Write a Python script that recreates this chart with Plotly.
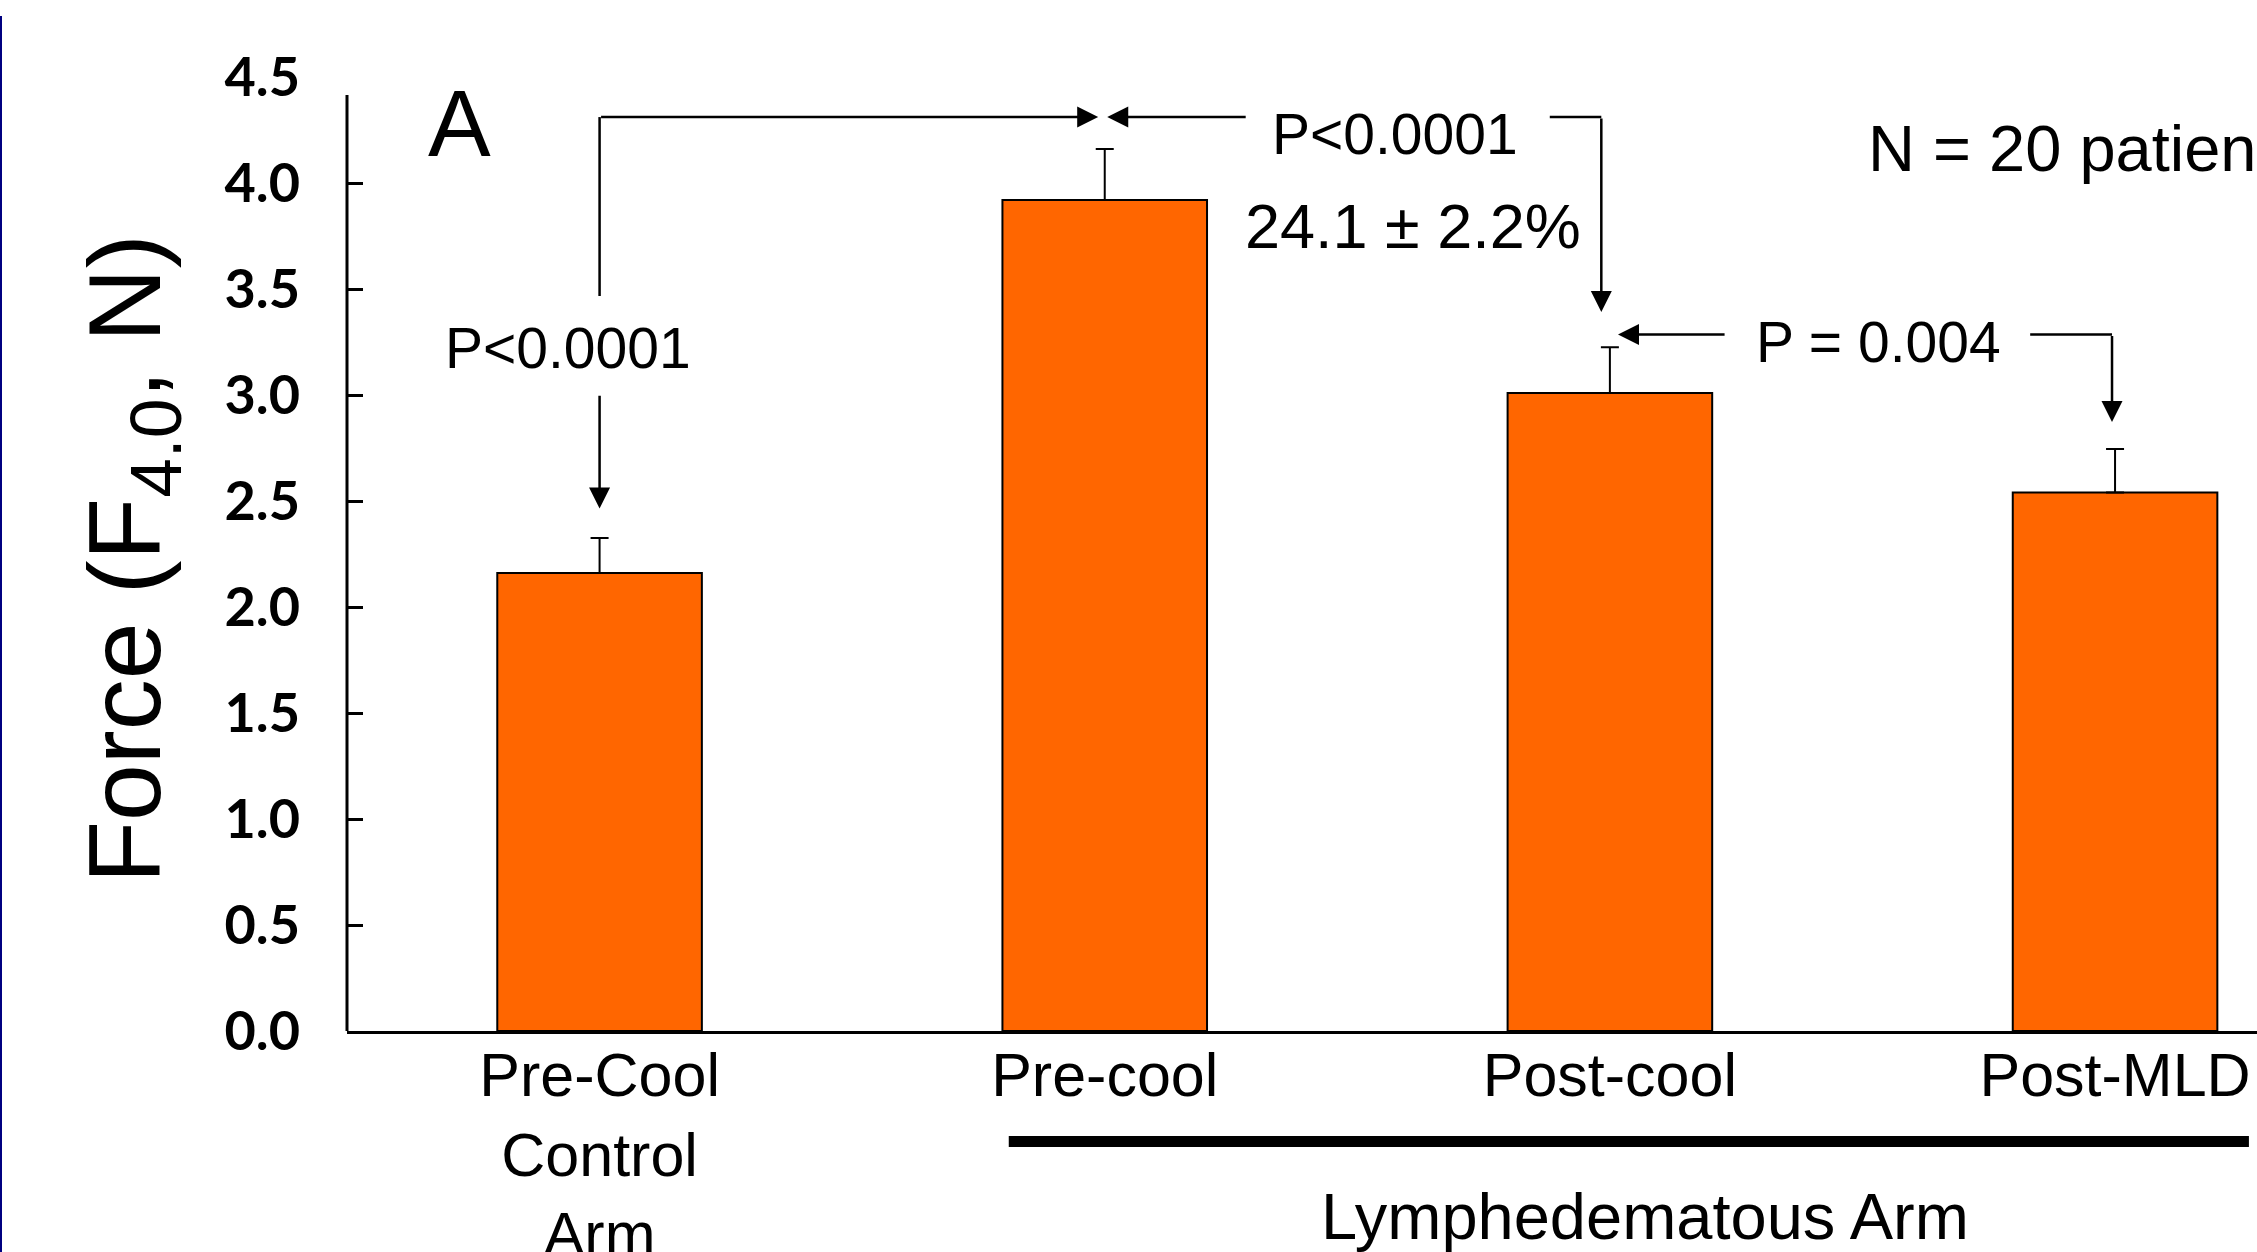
import plotly.graph_objects as go

# ---------------- data ----------------
CATEGORIES = ["Pre-Cool<br>Control<br>Arm", "Pre-cool", "Post-cool", "Post-MLD"]
FORCE = [2.16, 3.92, 3.01, 2.54]          # mean force (N)
SEM = [0.165, 0.24, 0.215, 0.205]          # upper error bar
Y_TICKS = [0.0, 0.5, 1.0, 1.5, 2.0, 2.5, 3.0, 3.5, 4.0, 4.5]
Y_TICK_MARKS = [0.0, 0.5, 1.0, 1.5, 2.0, 2.5, 3.0, 3.5, 4.0]
GROUP_LABEL = "Lymphedematous Arm"
PANEL_LABEL = "A"
N_LABEL = "N = 20 patients"
P_CTRL = "P<0.0001"
P_COOL = "P<0.0001"
PCT_CHANGE = "24.1 ± 2.2%"
P_MLD = "P = 0.004"

# ---------------- geometry / style ----------------
W, H = 2257, 1252
ML, MR, MT, MB = 347, 0, 77, 221.4
X_RANGE = [-0.5, 3.281]
Y_RANGE = [0, 4.5]
AXIS_TOP = 4.415
ORANGE = "#FF6600"
TXT = "Liberation Sans, Arial, sans-serif"

X = list(range(len(CATEGORIES)))


def px_x(px):
    return (px - ML) / (W - ML - MR)


def px_y(py):
    return (H - MB - py) / (H - MT - MB)


fig = go.Figure()
fig.add_trace(go.Bar(
    x=X, y=FORCE, width=0.405,
    marker=dict(color=ORANGE, line=dict(color="black", width=2)),
    error_y=dict(type="data", symmetric=False, array=SEM,
                 arrayminus=[0] * len(SEM), color="black",
                 thickness=2, width=9),
    showlegend=False, hoverinfo="skip",
))
# helper trace so the overlay axis (tick marks) is drawn
fig.add_trace(go.Scatter(x=[None], y=[None], yaxis="y2", showlegend=False,
                         hoverinfo="skip"))

tops = [v + e for v, e in zip(FORCE, SEM)]


def arrow(xt, yt, xh, yh):
    return dict(x=xh, y=yh, ax=xt, ay=yt, xref="x", yref="y",
                axref="x", ayref="y", text="", showarrow=True,
                arrowhead=2, arrowsize=1.68, arrowwidth=2.5,
                arrowcolor="black", standoff=0, startstandoff=0)


def label(x, y, text, size, xanchor="center"):
    return dict(x=x, y=y, xref="x", yref="y", text=text, showarrow=False,
                xanchor=xanchor, yanchor="middle",
                font=dict(family=TXT, size=size, color="black"))


BR_Y = 4.311        # height of top bracket
MLD_Y = 3.285       # height of P = 0.004 bracket

annotations = [
    # control vs pre-cool
    arrow(X[0], BR_Y, 0.987, BR_Y),
    arrow(1.282, BR_Y, 1.005, BR_Y),
    arrow(X[0], 3.004, X[0], tops[0] + 0.14),
    label(-0.062, 3.221, P_CTRL, 57),
    # pre-cool vs post-cool
    label(1.575, 4.229, P_COOL, 57),
    label(1.611, 3.799, PCT_CHANGE, 63),
    arrow(1.983, BR_Y, 1.983, tops[2] + 0.166),
    # post-cool vs post-MLD
    arrow(2.230, MLD_Y, 2.016, MLD_Y),
    label(2.532, 3.252, P_MLD, 57),
    arrow(2.994, MLD_Y, 2.994, tops[3] + 0.128),
    # panel letter and N
    label(-0.278, 4.281, PANEL_LABEL, 94),
    label(2.507, 4.163, N_LABEL, 65, xanchor="left"),
    # group label
    dict(x=2.07, y=px_y(1216), xref="x", yref="paper", text=GROUP_LABEL,
         showarrow=False, xanchor="center", yanchor="middle",
         font=dict(family=TXT, size=65, color="black")),
    # y-axis title
    dict(x=px_x(132), y=px_y(559), xref="paper", yref="paper",
         text="Force (F<sub>4.0</sub>, N)", textangle=-90, showarrow=False,
         xanchor="center", yanchor="middle",
         font=dict(family=TXT, size=102, color="black")),
]

line = dict(color="black", width=2.5)
shapes = [
    # y axis line (stops below 4.5)
    dict(type="line", xref="x domain", yref="y", x0=0, x1=0, y0=0,
         y1=AXIS_TOP, line=dict(color="black", width=3)),
    # bracket pieces
    dict(type="line", xref="x", yref="y", x0=X[0], x1=X[0], y0=3.467,
         y1=BR_Y, line=line),
    dict(type="line", xref="x", yref="y", x0=1.881, x1=1.983, y0=BR_Y,
         y1=BR_Y, line=line),
    dict(type="line", xref="x", yref="y", x0=2.832, x1=2.994, y0=MLD_Y,
         y1=MLD_Y, line=line),
    # group bar under lymphedematous arm categories
    dict(type="line", xref="x", yref="paper", x0=0.81, x1=3.265,
         y0=px_y(1141), y1=px_y(1141), line=dict(color="black", width=11)),
    # slide border at left
    dict(type="line", xref="paper", yref="paper", x0=px_x(1), x1=px_x(1),
         y0=px_y(16), y1=px_y(H), line=dict(color="#000080", width=2)),
]

fig.update_layout(
    width=W, height=H,
    margin=dict(l=ML, r=MR, t=MT, b=MB, pad=0, autoexpand=False),
    plot_bgcolor="white", paper_bgcolor="white",
    showlegend=False,
    xaxis=dict(range=X_RANGE, tickvals=X, ticktext=CATEGORIES,
               showline=True, linecolor="black", linewidth=3,
               ticks="", showgrid=False, zeroline=False,
               automargin=False, ticklabelstandoff=-11,
               tickfont=dict(family=TXT, size=61, color="black")),
    yaxis=dict(range=Y_RANGE, tickvals=Y_TICKS,
               ticktext=[f"{v:.1f}" for v in Y_TICKS],
               ticks="", showline=False, showgrid=False, zeroline=False,
               automargin=False, ticklabelstandoff=46,
               tickfont=dict(family="Lato, sans-serif", size=54,
                             color="black", weight="bold")),
    yaxis2=dict(range=Y_RANGE, overlaying="y", side="left",
                tickvals=Y_TICK_MARKS, ticks="inside", ticklen=16,
                tickwidth=2.5, tickcolor="black", showticklabels=False,
                showline=False, showgrid=False, zeroline=False,
                automargin=False),
    annotations=annotations,
    shapes=shapes,
)

fig.write_html("out.html")
